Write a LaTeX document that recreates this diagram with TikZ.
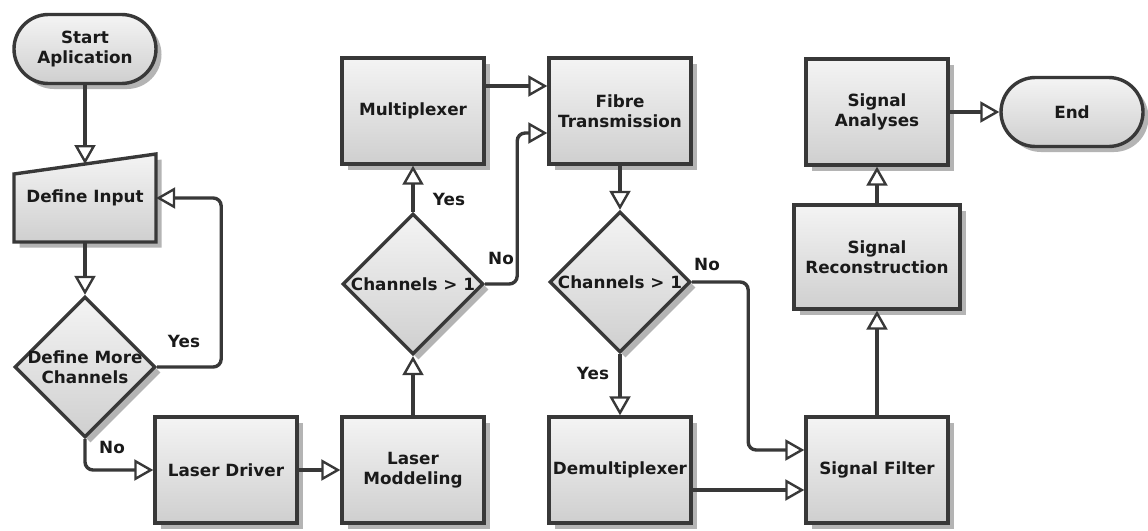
\documentclass[tikz,border=0pt]{standalone}
\usepackage{fontspec}
\setmainfont{DejaVu Sans}
\usetikzlibrary{arrows.meta,shapes.geometric,shapes.misc,shadows,calc}
\definecolor{edge}{HTML}{383838}
\definecolor{ink}{HTML}{1A1A1A}
\definecolor{topc}{HTML}{F4F4F4}
\definecolor{botc}{HTML}{CFCFCF}
\definecolor{shade}{HTML}{B4B4B4}
\tikzset{
  labelfont/.style={text=ink, font=\bfseries\fontsize{16.8}{20}\selectfont},
  base/.style={draw=edge, line width=3.4pt, top color=topc, bottom color=botc,
    drop shadow={shadow xshift=5.5pt, shadow yshift=-5.5pt, fill=shade, opacity=1},
    labelfont, align=center, inner sep=0pt},
  proc/.style={base, rectangle, minimum width=142pt, minimum height=106pt},
  term/.style={base, rounded rectangle, minimum width=142pt, minimum height=69pt},
  decision/.style={base, diamond, minimum width=141pt, minimum height=141pt},
  caption/.style={labelfont, align=center, inner sep=0pt},
  flow/.style={draw=edge, line width=3.4pt, rounded corners=8pt,
    -{Triangle[length=19pt, width=21pt, fill=white, line width=2.4pt]}},
  tag/.style={labelfont}
}
\begin{document}
\begin{tikzpicture}[x=1pt, y=-1pt]
  \fill[white] (0,0) rectangle (1148,530);
  \useasboundingbox (0,0) rectangle (1148,530);

  % terminals
  \node[term] (start) at (85,49) {Start\\Aplication};
  \node[term] (end) at (1072,112) {End};

  % manual input block
  \path[base] (14,242) -- (14,174) -- (156,154) -- (156,242) -- cycle;
  \node[caption, minimum width=142pt, minimum height=88pt] (inp) at (85,198) {Define Input};
  \coordinate (inp-top) at (85,164);

  % decisions
  \node[decision] (more) at (85,367) {};
  \node[caption] at (more) {Define More\\Channels};
  \node[decision] (c1) at (413,284) {};
  \node[caption] at (c1) {Channels > 1};
  \node[decision] (c2) at (620,282) {};
  \node[caption] at (c2) {Channels > 1};

  % process blocks
  \node[proc] (driver) at (226,470) {Laser Driver};
  \node[proc] (model) at (413,470) {Laser\\Moddeling};
  \node[proc] (mux) at (413,111) {Multiplexer};
  \node[proc] (fib) at (620,111) {Fibre\\Transmission};
  \node[proc] (dmx) at (620,470) {Demultiplexer};
  \node[proc] (sf) at (877,470) {Signal Filter};
  \node[proc, minimum width=166pt, minimum height=104pt] (sr) at (877,257) {Signal\\Reconstruction};
  \node[proc] (sa) at (877,112) {Signal\\Analyses};

  % connectors
  \draw[flow] (start.south) -- (inp-top);
  \draw[flow] (inp.south) -- (more.north);
  \draw[flow] (more.east) -- ++(64,0) |- (inp.east);
  \draw[flow] (more.south) |- (driver.west);
  \draw[flow] (driver) -- (model);
  \draw[flow] (model) -- (c1);
  \draw[flow] (c1) -- (mux);
  \draw[flow] (c1.east) -- ++(32,0) |- ($(fib.west)+(0,22)$);
  \draw[flow] ($(mux.east)+(0,-25)$) -- ($(fib.west)+(0,-25)$);
  \draw[flow] (fib) -- (c2);
  \draw[flow] (c2) -- (dmx);
  \draw[flow] (c2.east) -- ++(56,0) |- ($(sf.west)+(0,-20)$);
  \draw[flow] ($(dmx.east)+(0,20)$) -- ($(sf.west)+(0,20)$);
  \draw[flow] (sf) -- (sr);
  \draw[flow] (sr) -- (sa);
  \draw[flow] (sa) -- (end);

  % branch labels
  \node[tag] at (184,341) {Yes};
  \node[tag] at (112,447) {No};
  \node[tag] at (449,199) {Yes};
  \node[tag] at (501,258) {No};
  \node[tag] at (707,264) {No};
  \node[tag] at (593,373) {Yes};
\end{tikzpicture}
\end{document}
